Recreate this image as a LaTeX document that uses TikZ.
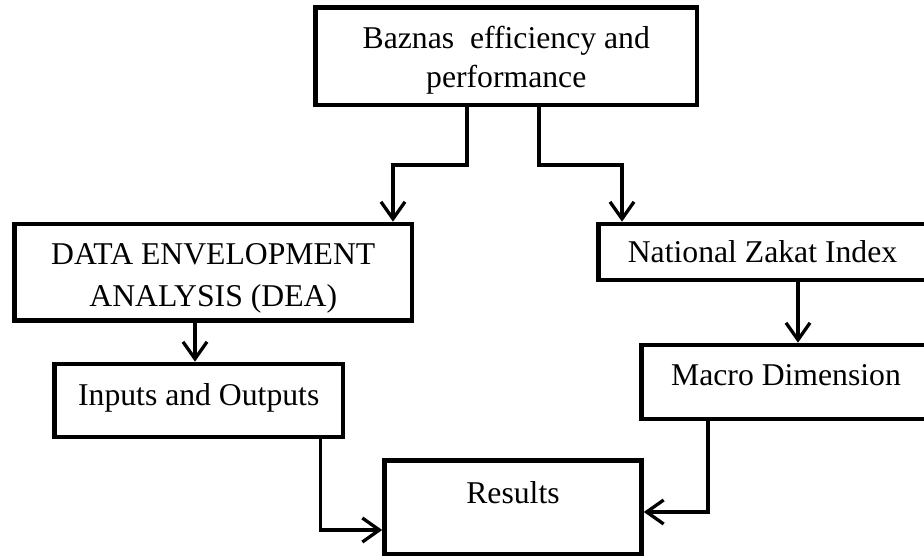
\documentclass[tikz,border=0pt]{standalone}
\usepackage{fontspec}
\setmainfont{Liberation Serif}
\usetikzlibrary{arrows.meta}
\tikzset{
  box/.style={draw, line width=4.6pt, rectangle, inner sep=0pt,
    font=\fontsize{31.7}{39}\selectfont, text height=22pt, text depth=0pt},
  conn/.style={line width=3.3pt, -{Straight Barb[length=17pt,width=24pt]}},
}
\begin{document}
\begin{tikzpicture}[x=1pt,y=-1pt]
\useasboundingbox (0,0) rectangle (924,556);
\clip (0,0) rectangle (924,556);
\node[box, minimum width=381.5pt, minimum height=97.5pt, text depth=36.5pt] (top) at (506.25,56.25)
  {\begin{tabular}[t]{@{}c@{}}Baznas\ \ efficiency and\\performance\end{tabular}};
\node[box, font=\fontsize{31.7}{42}\selectfont, minimum width=397.5pt, minimum height=96.5pt, text depth=36.5pt] (dea) at (213.25,272.25)
  {\begin{tabular}[t]{@{}c@{}}DATA ENVELOPMENT\\ANALYSIS (DEA)\end{tabular}};
\node[box, minimum width=288.5pt, minimum height=73pt, text depth=13pt] (inp) at (198.75,400.5) {Inputs and Outputs};
\node[box, minimum width=328pt, minimum height=56pt] (nzi) at (762.5,252) {National Zakat Index};
\node[box, minimum width=289pt, minimum height=74pt, text depth=16pt] (mac) at (786,382) {Macro Dimension};
\node[box, minimum width=257pt, minimum height=93.5pt, text depth=30.5pt] (res) at (513,507.25) {Results};
\coordinate (j1) at (467,165);
\coordinate (j2) at (393,165);
\coordinate (j3) at (539,165);
\coordinate (j4) at (622,165);
\coordinate (a1) at (195,0);
\coordinate (a2) at (798,0);
\coordinate (b1) at (320.5,530);
\coordinate (b2) at (708,512);
\draw[conn] (top.south -| j1) -- (j1) -- (j2) -- (j2 |- dea.north);
\draw[conn] (top.south -| j3) -- (j3) -- (j4) -- (j4 |- nzi.north);
\draw[conn] (dea.south -| a1) -- (inp.north -| a1);
\draw[conn] (nzi.south -| a2) -- (mac.north -| a2);
\draw[conn] (inp.south -| b1) |- (res.west |- b1);
\draw[conn] (mac.south -| b2) |- (res.east |- b2);
\end{tikzpicture}
\end{document}
